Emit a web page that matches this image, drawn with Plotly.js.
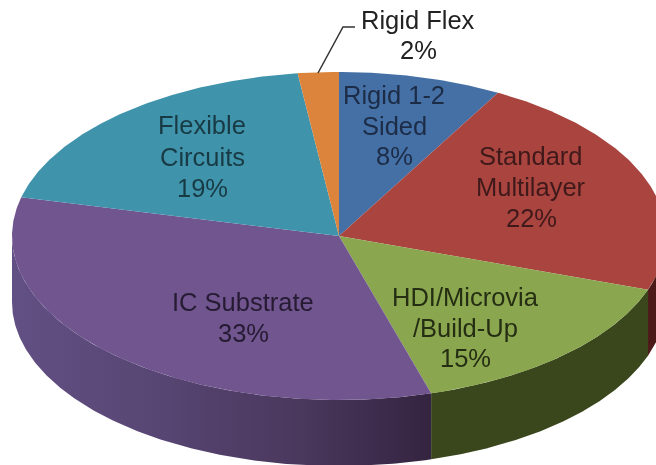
<!DOCTYPE html>
<html><head><meta charset="utf-8">
<script src="https://cdn.plot.ly/plotly-3.0.1.min.js"></script>
<style>html,body{margin:0;padding:0;background:#fff;overflow:hidden}#c{width:656px;height:465px;filter:blur(0.45px)}</style>
</head><body><div id="c"></div>
<script>
const categories = ["Rigid 1-2 Sided","Standard Multilayer","HDI/Microvia /Build-Up","IC Substrate","Flexible Circuits","Rigid Flex"];
const values = [8,22,15,33,19,2];
const topColors = ["#4570a6","#a9443f","#8aa64e","#70558f","#3f93ab","#dc843c"];
const wallColors = ["#2c4668","#4d1a1a","#3a471c","#4a3860","#27606f","#94561f"];

const cx=339, cy=236, rx=327, ry=164, depth=66;
const total=values.reduce((a,b)=>a+b,0);
const px=a=>cx+rx*Math.sin(a), py=a=>cy-ry*Math.cos(a);
let traces=[], tops=[], acc=0;
values.forEach((v,i)=>{
  const a0=acc/total*2*Math.PI; acc+=v;
  const a1=(i===values.length-1)?2*Math.PI:acc/total*2*Math.PI;
  const x=[cx],y=[cy];
  const n=Math.ceil((a1-a0)/0.01);
  for(let k=0;k<=n;k++){const a=a0+(a1-a0)*k/n;x.push(px(a));y.push(py(a));}
  x.push(cx);y.push(cy);
  tops.push({x,y,mode:'lines',line:{width:0},fill:'toself',fillcolor:topColors[i],hoverinfo:'skip',name:categories[i],type:'scatter'});
  const w0=Math.max(a0,Math.PI/2), w1=Math.min(a1,3*Math.PI/2);
  if(w1>w0){
    const wx=[],wy=[];
    for(let k=0;k<=200;k++){const a=w0+(w1-w0)*k/200;wx.push(px(a));wy.push(py(a));}
    for(let k=200;k>=0;k--){const a=w0+(w1-w0)*k/200;wx.push(px(a));wy.push(py(a)+depth);}
    const t={x:wx,y:wy,mode:'lines',line:{width:0},fill:'toself',fillcolor:wallColors[i],hoverinfo:'skip',type:'scatter'};
    if(i===3){t.fillgradient={type:'horizontal',colorscale:[[0,'#625084'],[0.35,'#574573'],[0.7,'#49375c'],[1,'#342440']]};}
    traces.push(t);
  }
});
const font=color=>({family:'"Liberation Sans",Arial,sans-serif',size:25.5,color});
const lab=(lines,x,ys,color)=>lines.map((text,k)=>({text,x,y:ys[k],xref:'x',yref:'y',showarrow:false,
  font:font(color),xanchor:'center',yanchor:'middle'}));
const annotations=[].concat(
 lab(['Rigid 1-2','Sided','8%'],394,[95,126,156],'#1c2c46'),
 lab(['Standard','Multilayer','22%'],531,[156,187,218],'#40191a'),
 lab(['HDI/Microvia','/Build-Up','15%'],465,[297,328,358],'#252e13'),
 lab(['IC Substrate','33%'],243,[302,333],'#261b33'),
 lab(['Flexible','Circuits','19%'],202,[125,157,188],'#183a44'),
 lab(['Rigid Flex','2%'],418,[20,50],'#222222')
);
Plotly.newPlot('c',traces.concat(tops),{
  width:656,height:465,margin:{l:0,r:0,t:0,b:0},showlegend:false,
  paper_bgcolor:'#fff',plot_bgcolor:'#fff',
  xaxis:{range:[0,656],visible:false,fixedrange:true},
  yaxis:{range:[465,0],visible:false,fixedrange:true},
  annotations,
  shapes:[{type:'path',path:'M 318 73 L 343 27 L 355 27',line:{color:'#333333',width:1.5}}]
},{staticPlot:true,displayModeBar:false});
</script></body></html>
